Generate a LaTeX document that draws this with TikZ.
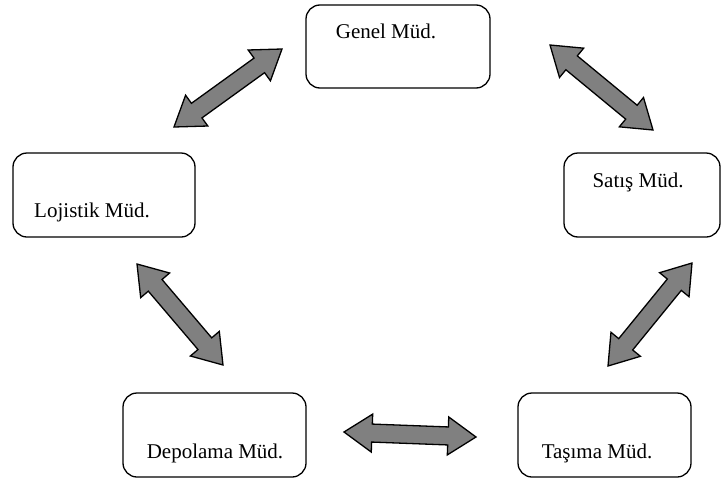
\documentclass[tikz,border=0pt]{standalone}
\usepackage{fontspec}
\setmainfont{Liberation Serif}
\usetikzlibrary{calc}

% block double arrow between two named coordinates
\newcommand{\dblarrow}[2]{%
  \coordinate (h1) at ($(#1)!28pt!(#2)$);
  \coordinate (h2) at ($(#2)!28pt!(#1)$);
  \draw[blockarrow] (#1) -- ($(h1)!19pt!90:(#2)$) -- ($(h1)!9pt!90:(#2)$)
    -- ($(h2)!9pt!-90:(#1)$) -- ($(h2)!19pt!-90:(#1)$) -- (#2)
    -- ($(h2)!19pt!90:(#1)$) -- ($(h2)!9pt!90:(#1)$)
    -- ($(h1)!9pt!-90:(#2)$) -- ($(h1)!19pt!-90:(#2)$) -- cycle;
}

\begin{document}
\begin{tikzpicture}[x=1pt,y=-1pt,
    mudbox/.style={draw, line width=1.3pt, rounded corners=14pt, inner sep=0pt},
    mudtext/.style={anchor=base, font=\fontsize{21}{25}\selectfont},
    blockarrow/.style={draw, line width=1.3pt, fill=gray, line join=miter}]
    \useasboundingbox (0,0) rectangle (722,482);

    % departments
    \node[mudbox, minimum width=184pt, minimum height=83pt] (genel) at (398,46.5) {};
    \node[mudbox, minimum width=156pt, minimum height=84pt] (satis) at (642,195) {};
    \node[mudbox, minimum width=182pt, minimum height=84pt] (lojistik) at (104,195) {};
    \node[mudbox, minimum width=183pt, minimum height=84pt] (depolama) at (214.5,435) {};
    \node[mudbox, minimum width=173pt, minimum height=84pt] (tasima) at (604.5,435) {};

    \node[mudtext] (genel-t) at (386,38) {Genel Müd.};
    \node[mudtext] (satis-t) at (638,187) {Satış Müd.};
    \node[mudtext] (lojistik-t) at (92,217) {Lojistik Müd.};
    \node[mudtext] (depolama-t) at (215,458) {Depolama Müd.};
    \node[mudtext] (tasima-t) at (597,458) {Taşıma Müd.};

    % arrow ends
    \coordinate (gl1) at (282,49);
    \coordinate (gl2) at (174,127);
    \coordinate (gs1) at (550,45);
    \coordinate (gs2) at (653,130);
    \coordinate (ld1) at (137,264);
    \coordinate (ld2) at (223,365);
    \coordinate (st1) at (692,263);
    \coordinate (st2) at (608,366);
    \coordinate (dt1) at (344,432);
    \coordinate (dt2) at (476,437);

    \dblarrow{gl1}{gl2}
    \dblarrow{gs1}{gs2}
    \dblarrow{ld1}{ld2}
    \dblarrow{st1}{st2}
    \dblarrow{dt1}{dt2}
\end{tikzpicture}
\end{document}
